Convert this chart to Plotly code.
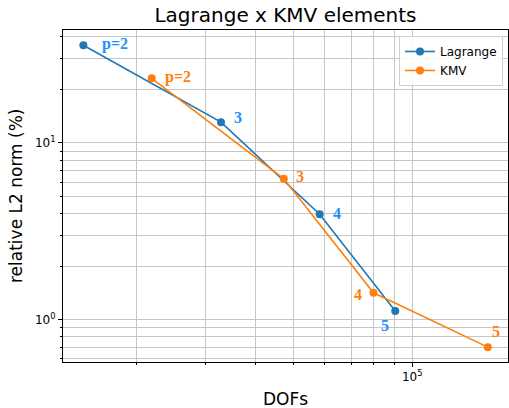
import math
import plotly.graph_objects as go

# Convergence data: degrees of freedom vs. relative L2 error (%)
lagrange_dofs = [14700, 32800, 58300, 90600]
lagrange_err = [35.7, 13.1, 3.95, 1.12]
lagrange_labels = ["p=2", "3", "4", "5"]

kmv_dofs = [21900, 47300, 79800, 155400]
kmv_err = [23.2, 6.27, 1.42, 0.70]
kmv_labels = ["p=2", "3", "4", "5"]

# label offsets in pixels (dx, dy) relative to each marker
lagrange_offsets = [(32, 1), (17, 5), (17, 1), (-10, -14)]
kmv_offsets = [(26, 1), (16, 2), (-15, -2), (8, 16)]

x_major = [1e5]
y_major = [1, 10]
x_minor = [m * 1e4 for m in range(2, 10)]
y_minor = [m * 0.1 for m in range(2, 10)] + [m * 1.0 for m in range(2, 10)] + [m * 10.0 for m in range(2, 10)]

BLUE = "#1f77b4"
ORANGE = "#ff7f0e"
LABEL_BLUE = "#1e90ff"
LABEL_ORANGE = "#ff7f0e"
GRID = "#c6c6c6"

fig = go.Figure()
fig.add_trace(go.Scatter(
    x=lagrange_dofs, y=lagrange_err, mode="lines+markers", name="Lagrange",
    line=dict(color=BLUE, width=1.6), marker=dict(color=BLUE, size=8),
))
fig.add_trace(go.Scatter(
    x=kmv_dofs, y=kmv_err, mode="lines+markers", name="KMV",
    line=dict(color=ORANGE, width=1.6), marker=dict(color=ORANGE, size=8),
))

annotations = []
for xs, ys, labels, offs, col in [
    (lagrange_dofs, lagrange_err, lagrange_labels, lagrange_offsets, LABEL_BLUE),
    (kmv_dofs, kmv_err, kmv_labels, kmv_offsets, LABEL_ORANGE),
]:
    for xv, yv, lab, (dx, dy) in zip(xs, ys, labels, offs):
        annotations.append(dict(
            x=math.log10(xv), y=math.log10(yv),
            xref="x", yref="y", text="<b>" + lab + "</b>", showarrow=False,
            xanchor="center", yanchor="middle", xshift=dx, yshift=dy,
            font=dict(family="Liberation Serif", size=16, color=col),
        ))

# axis titles
annotations.append(dict(
    x=0.5, y=-0.111, xref="paper", yref="paper", text="DOFs", showarrow=False,
    xanchor="center", yanchor="middle",
    font=dict(family="DejaVu Sans", size=17, color="#000000"),
))
annotations.append(dict(
    x=-0.1056, y=0.5, xref="paper", yref="paper", text="relative L2 norm (%)",
    showarrow=False, textangle=-90, xanchor="center", yanchor="middle",
    font=dict(family="DejaVu Sans", size=17, color="#000000"),
))

axis_common = dict(
    type="log", showline=True, linecolor="#000000", linewidth=1, mirror=True,
    showgrid=True, gridcolor=GRID, gridwidth=1, zeroline=False,
    ticks="outside", ticklen=4, tickcolor="#000000", tickwidth=1,
    tickfont=dict(family="DejaVu Sans", size=12, color="#000000"),
)

fig.update_xaxes(
    **axis_common,
    range=[4.1158, 5.2426],
    tickmode="array", tickvals=x_major, ticktext=["10<sup>5</sup>"],
    minor=dict(tickmode="array", tickvals=x_minor, ticks="outside", ticklen=2,
               tickcolor="#000000", showgrid=True, gridcolor=GRID, gridwidth=1),
)
fig.update_yaxes(
    **axis_common,
    range=[-0.239, 1.6385],
    tickmode="array", tickvals=y_major, ticktext=["10<sup>0</sup>", "10<sup>1</sup>"],
    minor=dict(tickmode="array", tickvals=y_minor, ticks="outside", ticklen=2,
               tickcolor="#000000", showgrid=True, gridcolor=GRID, gridwidth=1),
)

fig.update_layout(
    width=509, height=408,
    margin=dict(l=63, r=1, t=30, b=46),
    paper_bgcolor="#ffffff", plot_bgcolor="#ffffff",
    title=dict(text="Lagrange x KMV elements", x=0.5, xref="paper",
               y=1 - 15 / 408, yref="container", yanchor="middle", xanchor="center",
               font=dict(family="DejaVu Sans", size=20, color="#000000")),
    showlegend=True,
    legend=dict(x=0.9888, y=0.982, xanchor="right", yanchor="top",
                bgcolor="rgba(255,255,255,0.85)", bordercolor="#d0d0d0", borderwidth=1,
                font=dict(family="DejaVu Sans", size=12, color="#000000"),
                tracegroupgap=0),
    annotations=annotations,
)

fig.write_html("out.html")
